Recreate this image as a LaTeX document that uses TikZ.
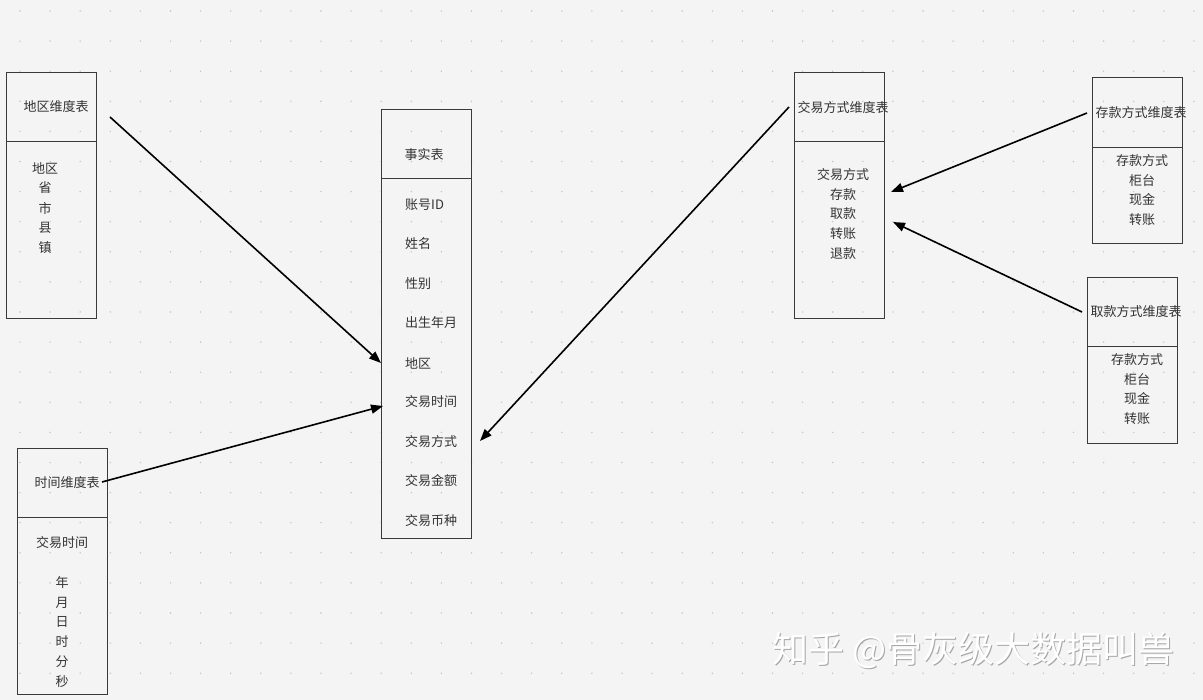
\documentclass[tikz,border=0pt]{standalone}
\usepackage{fontspec}
\setmainfont{Noto Sans CJK SC}
\usetikzlibrary{arrows.meta,calc}
\definecolor{bg}{HTML}{F4F4F5}
\definecolor{dotc}{HTML}{C4C4C6}
\definecolor{boxline}{HTML}{3A3A3A}
\definecolor{txt}{HTML}{333333}
\tikzset{
  tbox/.style={draw=boxline, line width=0.9pt, minimum width=90pt, inner sep=0pt, outer sep=0pt, anchor=north west},
  lbl/.style={font=\fontsize{13}{14}\selectfont, text=txt, inner sep=0pt, yshift=-1pt},
  fld/.style={lbl, anchor=west},
  conn/.style={draw=black, line width=1.6pt, -{Triangle[length=12pt,width=9pt]}},
  wm/.style={font=\fontsize{36}{38}\selectfont, inner sep=0pt, anchor=west}
}
\begin{document}
\begin{tikzpicture}[x=1pt,y=-1pt]
\fill[bg] (0,0) rectangle (1203,700);
\useasboundingbox (0,0) rectangle (1203,700);
\foreach \i in {0,...,39} {
  \foreach \j in {0,...,22} {
    \fill[dotc] ({20+30.1*\i},{11+30.1*\j}) circle (0.8pt);
  }
}
% Region dimension table
\node[tbox, minimum height=69pt] (rH) at (6,72) {};
\node[tbox, minimum height=177pt] (rB) at (6,141) {};
\node[lbl] (rT) at (56,106) {地区维度表};
\node[lbl] (r1) at (45,167) {地区};
\node[lbl] (r2) at (45,187) {省};
\node[lbl] (r3) at (45,207) {市};
\node[lbl] (r4) at (45,227) {县};
\node[lbl] (r5) at (45,247) {镇};
% Fact table
\node[tbox, minimum height=69pt] (fH) at (381,109) {};
\node[tbox, minimum height=360pt] (fB) at (381,178) {};
\node[lbl] (fT) at (424,154) {事实表};
\node[fld] (f1) at (405,204) {账号ID};
\node[fld] (f2) at (405,243) {姓名};
\node[fld] (f3) at (405,283) {性别};
\node[fld] (f4) at (405,322) {出生年月};
\node[fld] (f5) at (405,362) {地区};
\node[fld] (f6) at (405,401) {交易时间};
\node[fld] (f7) at (405,441) {交易方式};
\node[fld] (f8) at (405,480) {交易金额};
\node[fld] (f9) at (405,520) {交易币种};
% Transaction method dimension table
\node[tbox, minimum height=69pt] (xH) at (794,72) {};
\node[tbox, minimum height=177pt] (xB) at (794,141) {};
\node[lbl] (xT) at (843,107) {交易方式维度表};
\node[lbl] (x1) at (843,174) {交易方式};
\node[lbl] (x2) at (843,194) {存款};
\node[lbl] (x3) at (843,213) {取款};
\node[lbl] (x4) at (843,233) {转账};
\node[lbl] (x5) at (843,253) {退款};
% Deposit method dimension table
\node[tbox, minimum height=70pt] (dH) at (1092,77) {};
\node[tbox, minimum height=96pt] (dB) at (1092,147) {};
\node[lbl] (dT) at (1141,112) {存款方式维度表};
\node[lbl] (d1) at (1142,160) {存款方式};
\node[lbl] (d2) at (1142,180) {柜台};
\node[lbl] (d3) at (1142,199) {现金};
\node[lbl] (d4) at (1142,219) {转账};
% Withdrawal method dimension table
\node[tbox, minimum height=69pt] (wH) at (1087,277) {};
\node[tbox, minimum height=97pt] (wB) at (1087,346) {};
\node[lbl] (wT) at (1136,311) {取款方式维度表};
\node[lbl] (w1) at (1137,359) {存款方式};
\node[lbl] (w2) at (1137,379) {柜台};
\node[lbl] (w3) at (1137,398) {现金};
\node[lbl] (w4) at (1137,418) {转账};
% Time dimension table
\node[tbox, minimum height=69pt] (tH) at (17,448) {};
\node[tbox, minimum height=177pt] (tB) at (17,517) {};
\node[lbl] (tT) at (67,482) {时间维度表};
\node[lbl] (t1) at (62,542) {交易时间};
\node[lbl] (t2) at (62,582) {年};
\node[lbl] (t3) at (62,602) {月};
\node[lbl] (t4) at (62,621) {日};
\node[lbl] (t5) at (62,641) {时};
\node[lbl] (t6) at (62,661) {分};
\node[lbl] (t7) at (62,681) {秒};
% connector ends
\coordinate (aS) at (110,117);
\coordinate (aE) at (fB.west |- f5.west);
\coordinate (bS) at (102,482);
\coordinate (bE) at (383,406);
\coordinate (cS) at (789,107);
\coordinate (cE) at (480,441);
\coordinate (dS) at (1087,113);
\coordinate (dE) at (891,192);
\coordinate (eS) at (1082,312);
\coordinate (eE) at (893,222);
\draw[conn] (aS) -- (aE);
\draw[conn] (bS) -- (bE);
\draw[conn] (cS) -- (cE);
\draw[conn] (dS) -- (dE);
\draw[conn] (eS) -- (eE);
% watermark
\node[wm, text=black!35] (wmS) at (773.5,651.5) {知乎 @骨灰级大数据叫兽};
\node[wm, text=white] (wmT) at (772,650) {知乎 @骨灰级大数据叫兽};
\end{tikzpicture}
\end{document}
